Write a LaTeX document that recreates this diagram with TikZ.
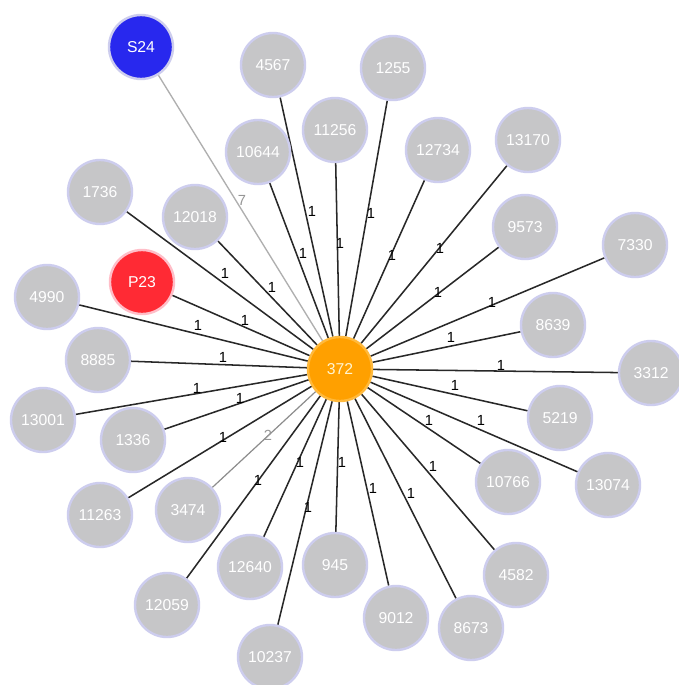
\documentclass[tikz,border=0pt]{standalone}
\usepackage{fontspec}
\setmainfont{Liberation Sans}
\usetikzlibrary{backgrounds}
\definecolor{ngray}{RGB}{198,198,200}
\definecolor{nring}{RGB}{205,205,238}
\definecolor{corange}{RGB}{255,160,0}
\definecolor{cring}{RGB}{255,185,60}
\definecolor{sblue}{RGB}{40,40,238}
\definecolor{pred}{RGB}{255,42,52}
\definecolor{edgec}{RGB}{40,40,40}
\definecolor{ledge}{RGB}{175,175,175}
\definecolor{medge}{RGB}{140,140,140}
\tikzset{
  gnode/.style={circle, fill=ngray, draw=nring, line width=1.8pt, minimum size=48pt, inner sep=0pt, text=white, font=\fontsize{11.8}{13}\selectfont},
  hub/.style={gnode, fill=corange, draw=cring, text={rgb,255:red,255;green,245;blue,210}},
  snode/.style={gnode, fill=sblue, draw=nring},
  pnode/.style={gnode, fill=pred, draw={rgb,255:red,255;green,190;blue,200}},
  edg/.style={draw=edgec, line width=1.15pt},
  edglight/.style={draw=ledge, line width=1.0pt},
  edgmid/.style={draw=medge, line width=0.9pt},
  lbl/.style={inner sep=0pt, font=\fontsize{11}{12}\selectfont, text=black},
  lblgray/.style={lbl, text={rgb,255:red,150;green,150;blue,150}}
}
\begin{document}
\begin{tikzpicture}[x=0.75pt,y=-0.75pt]
\useasboundingbox (0,0) rectangle (678,685);
% nodes
\node[hub] (c) at (340,369) {372};
\node[snode] (S24) at (141,47) {S24};
\node[pnode] (P23) at (142,282) {P23};
\node[gnode] (n4567) at (273,65) {4567};
\node[gnode] (n1255) at (393,68) {1255};
\node[gnode] (n11256) at (335,130) {11256};
\node[gnode] (n10644) at (258,152) {10644};
\node[gnode] (n12734) at (438,150) {12734};
\node[gnode] (n13170) at (528,140) {13170};
\node[gnode] (n1736) at (100,192) {1736};
\node[gnode] (n12018) at (195,217) {12018};
\node[gnode] (n9573) at (525,227) {9573};
\node[gnode] (n7330) at (635,245) {7330};
\node[gnode] (n4990) at (47,297) {4990};
\node[gnode] (n8639) at (553,325) {8639};
\node[gnode] (n8885) at (98,360) {8885};
\node[gnode] (n3312) at (651,373) {3312};
\node[gnode] (n13001) at (43,420) {13001};
\node[gnode] (n1336) at (133,440) {1336};
\node[gnode] (n5219) at (560,418) {5219};
\node[gnode] (n10766) at (508,482) {10766};
\node[gnode] (n13074) at (608,485) {13074};
\node[gnode] (n11263) at (100,515) {11263};
\node[gnode] (n3474) at (188,510) {3474};
\node[gnode] (n12640) at (250,567) {12640};
\node[gnode] (n945) at (335,565) {945};
\node[gnode] (n4582) at (516,575) {4582};
\node[gnode] (n12059) at (167,605) {12059};
\node[gnode] (n9012) at (396,618) {9012};
\node[gnode] (n8673) at (471,628) {8673};
\node[gnode] (n10237) at (270,657) {10237};
% edge labels
\node[lblgray] (lS24) at (242,200) {7};
\node[lblgray] (l3474) at (268,435) {2};
\node[lbl] (l4567) at (312,211) {1};
\node[lbl] (l10644) at (303,253) {1};
\node[lbl] (l11256) at (340,243) {1};
\node[lbl] (l1255) at (371,213) {1};
\node[lbl] (l12734) at (392,255) {1};
\node[lbl] (l13170) at (440,248) {1};
\node[lbl] (l9573) at (438,292) {1};
\node[lbl] (l7330) at (492,302) {1};
\node[lbl] (l8639) at (451,337) {1};
\node[lbl] (l1736) at (225,273) {1};
\node[lbl] (l12018) at (272,287) {1};
\node[lbl] (lP23) at (245,320) {1};
\node[lbl] (l4990) at (198,325) {1};
\node[lbl] (l8885) at (223,357) {1};
\node[lbl] (l13001) at (197,388) {1};
\node[lbl] (l1336) at (240,398) {1};
\node[lbl] (l11263) at (223,437) {1};
\node[lbl] (l12059) at (258,480) {1};
\node[lbl] (l12640) at (300,462) {1};
\node[lbl] (l10237) at (308,507) {1};
\node[lbl] (l945) at (342,462) {1};
\node[lbl] (l3312) at (501,365) {1};
\node[lbl] (l5219) at (455,385) {1};
\node[lbl] (l10766) at (429,420) {1};
\node[lbl] (l13074) at (481,420) {1};
\node[lbl] (l4582) at (433,466) {1};
\node[lbl] (l9012) at (373,488) {1};
\node[lbl] (l8673) at (411,493) {1};
% edges
\begin{scope}[on background layer]
\fill[white] (0,0) rectangle (678,685);
\draw[edglight] (c) -- (S24);
\draw[edgmid] (c) -- (n3474);
\foreach \n in {P23,n4567,n1255,n11256,n10644,n12734,n13170,n1736,n12018,n9573,n7330,n4990,n8639,n8885,n3312,n13001,n1336,n5219,n10766,n13074,n11263,n12640,n945,n4582,n12059,n9012,n8673,n10237}
  \draw[edg] (c) -- (\n);
\end{scope}
\end{tikzpicture}
\end{document}
